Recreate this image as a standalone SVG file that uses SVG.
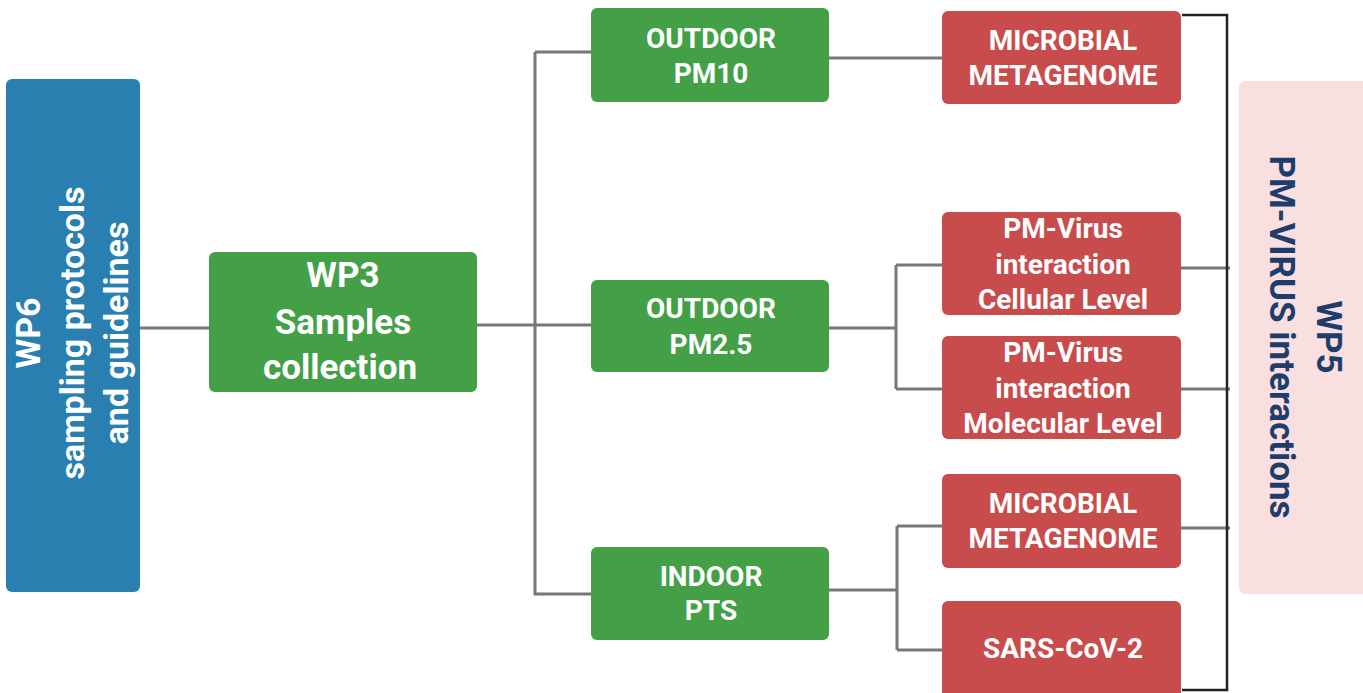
<svg xmlns="http://www.w3.org/2000/svg" width="1363" height="693" viewBox="0 0 1363 693">
<style>
.g{fill:#43a047}
.r{fill:#c94c4c}
.t{font-family:Roboto,"Liberation Sans",sans-serif;font-weight:bold;fill:#fff;text-anchor:middle}
.c{fill:none;stroke:#777;stroke-width:3}
.b{fill:none;stroke:#222;stroke-width:2.5}
</style>
<rect width="1363" height="693" fill="#fff"/>
<g id="connectors">
<path class="c" d="M140 328H209"/>
<path class="c" d="M477 325H591M535 52V594H591M535 52H591"/>
<path class="c" d="M829 58H942"/>
<path class="c" d="M829 328H896M896 265V389M896 265H942M896 389H942"/>
<path class="c" d="M829 590H897M897 526V650M897 526H942M897 650H942"/>
<path class="c" d="M1181 268H1230M1181 389H1230M1181 528H1230"/>
<path class="b" d="M1182 15H1227V690H1182"/>
</g>
<g id="wp6">
<rect x="6" y="79" width="134" height="513" rx="6" fill="#2980b0"/>
<text class="t" font-size="34" transform="translate(40,333) rotate(-90)"><tspan x="0" y="0">WP6</tspan><tspan x="0" y="44">sampling protocols</tspan><tspan x="0" y="88">and guidelines</tspan></text>
</g>
<g id="wp3">
<rect class="g" x="209" y="252" width="268" height="140" rx="6"/>
<text class="t" font-size="35"><tspan x="343" y="287">WP3</tspan><tspan x="343" y="334">Samples</tspan><tspan x="340" y="379">collection</tspan></text>
</g>
<g id="pm10">
<rect class="g" x="591" y="8" width="238" height="94" rx="6"/>
<text class="t" font-size="28"><tspan x="711" y="48">OUTDOOR</tspan><tspan x="711" y="83">PM10</tspan></text>
</g>
<g id="pm25">
<rect class="g" x="591" y="280" width="238" height="92" rx="6"/>
<text class="t" font-size="28"><tspan x="711" y="318">OUTDOOR</tspan><tspan x="711" y="354">PM2.5</tspan></text>
</g>
<g id="indoor">
<rect class="g" x="591" y="547" width="238" height="93" rx="6"/>
<text class="t" font-size="28"><tspan x="711" y="586">INDOOR</tspan><tspan x="711" y="620">PTS</tspan></text>
</g>
<g id="microbial1">
<rect class="r" x="942" y="11" width="239" height="93" rx="6"/>
<text class="t" font-size="28"><tspan x="1063" y="50">MICROBIAL</tspan><tspan x="1063" y="85">METAGENOME</tspan></text>
</g>
<g id="cellular">
<rect class="r" x="942" y="212" width="239" height="103" rx="6"/>
<text class="t" font-size="28"><tspan x="1063" y="238">PM-Virus</tspan><tspan x="1063" y="274">interaction</tspan><tspan x="1063" y="309">Cellular Level</tspan></text>
</g>
<g id="molecular">
<rect class="r" x="942" y="336" width="239" height="103" rx="6"/>
<text class="t" font-size="28"><tspan x="1063" y="362">PM-Virus</tspan><tspan x="1063" y="398">interaction</tspan><tspan x="1063" y="433">Molecular Level</tspan></text>
</g>
<g id="microbial2">
<rect class="r" x="942" y="474" width="239" height="94" rx="6"/>
<text class="t" font-size="28"><tspan x="1063" y="513">MICROBIAL</tspan><tspan x="1063" y="548">METAGENOME</tspan></text>
</g>
<g id="sars">
<rect class="r" x="942" y="601" width="239" height="98" rx="6"/>
<text class="t" font-size="28"><tspan x="1063" y="658">SARS-CoV-2</tspan></text>
</g>
<g id="wp5">
<rect x="1239" y="81" width="134" height="513" rx="6" fill="#f9dfdf"/>
<text class="t" font-size="35" style="fill:#1f3d6b" transform="translate(1317,337) rotate(90)"><tspan x="0" y="0">WP5</tspan><tspan x="0" y="47">PM-VIRUS interactions</tspan></text>
</g>
</svg>
